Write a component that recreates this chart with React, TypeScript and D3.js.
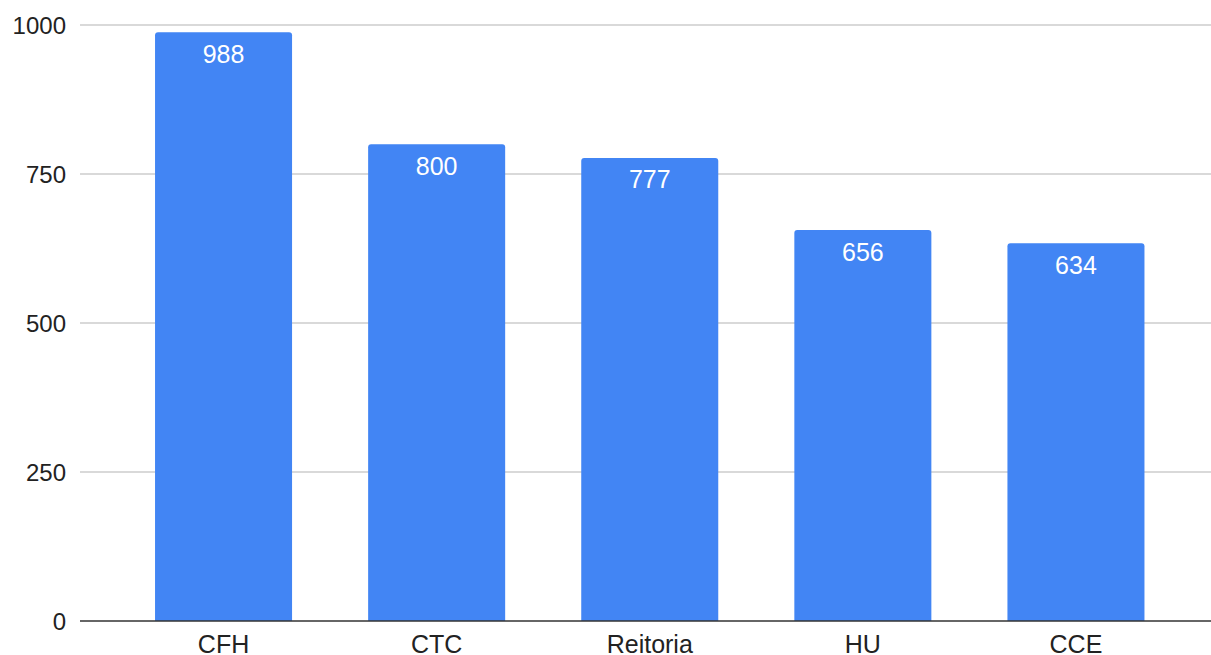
import React from "react";
import * as d3 from "d3";

const categories = ["CFH", "CTC", "Reitoria", "HU", "CCE"];
const values = [988, 800, 777, 656, 634];
const yTicks = [0, 250, 500, 750, 1000];

const W = 1211;
const H = 655;
const FONT = "'Liberation Sans', Arial, sans-serif";

function topRoundedRect(x: number, y: number, w: number, h: number, r: number) {
  const rr = Math.min(r, w / 2, h);
  return `M${x},${y + h}V${y + rr}Q${x},${y} ${x + rr},${y}H${x + w - rr}Q${x + w},${y} ${x + w},${y + rr}V${y + h}Z`;
}

export default function App() {
  const x = d3
    .scaleBand<string>()
    .domain(categories)
    .range([117, 1182.5])
    .paddingInner(0.357)
    .paddingOuter(0.1785);
  const y = d3.scaleLinear().domain([0, 1000]).range([621, 25]);
  const gridX0 = 80;
  const gridX1 = W;

  return (
    <svg
      width={W}
      height={H}
      style={{ position: "absolute", left: 0, top: 0, background: "#fff" }}
    >
      {yTicks.map((t) => (
        <g key={t}>
          {t !== 0 && (
            <line x1={gridX0} x2={gridX1} y1={y(t)} y2={y(t)} stroke="#cccccc" strokeWidth={1.3} />
          )}
          <text
            x={66}
            y={y(t) + 8.5}
            textAnchor="end"
            fontFamily={FONT}
            fontSize={24}
            fill="#222"
          >
            {t}
          </text>
        </g>
      ))}
      {categories.map((c, i) => {
        const bx = x(c)!;
        const bw = x.bandwidth();
        const by = y(values[i]);
        const bh = y(0) - by;
        return (
          <g key={c}>
            <path d={topRoundedRect(bx, by, bw, bh, 3)} fill="#4285f4" />
            <text
              x={bx + bw / 2}
              y={by + 30.5}
              textAnchor="middle"
              fontFamily={FONT}
              fontSize={25}
              fill="#ffffff"
            >
              {values[i]}
            </text>
            <text
              x={bx + bw / 2}
              y={653}
              textAnchor="middle"
              fontFamily={FONT}
              fontSize={25}
              fill="#222"
            >
              {c}
            </text>
          </g>
        );
      })}
      <line x1={gridX0} x2={gridX1} y1={y(0)} y2={y(0)} stroke="#333" strokeWidth={1.5} />
    </svg>
  );
}
